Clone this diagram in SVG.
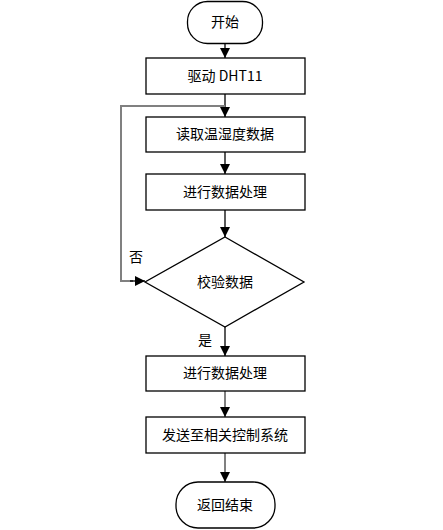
<svg xmlns="http://www.w3.org/2000/svg" width="443" height="530" viewBox="0 0 443 530">
<defs>
<style>
.n{fill:#fff;stroke:#000;stroke-width:1.3}
.t{font-family:"Noto Sans CJK SC","Noto Sans",sans-serif;font-size:14px;fill:#000;text-anchor:middle}
.c{fill:none;stroke:#000;stroke-width:1.3}
.g{fill:none;stroke:#808080;stroke-width:2}
</style>
<marker id="a" viewBox="0 0 10 10" refX="10" refY="5" markerWidth="10" markerHeight="10" markerUnits="userSpaceOnUse" orient="auto">
<path d="M0,0 L10,5 L0,10 z" fill="#000"/>
</marker>
</defs>
<rect width="443" height="530" fill="#fff"/>
<g id="connectors">
<line class="c" x1="225" y1="43" x2="225" y2="58" marker-end="url(#a)"/>
<line class="c" x1="225" y1="94" x2="225" y2="117" marker-end="url(#a)"/>
<line class="c" x1="225" y1="152" x2="225" y2="174" marker-end="url(#a)"/>
<line class="c" x1="225" y1="210" x2="225" y2="237" marker-end="url(#a)"/>
<line class="c" x1="225" y1="327" x2="225" y2="356" marker-end="url(#a)"/>
<line class="g" x1="225" y1="391" x2="225" y2="417" marker-end="url(#a)"/>
<line class="g" x1="225" y1="453" x2="225" y2="482" marker-end="url(#a)"/>
<path class="g" d="M133,281 L121,281 L121,106 L225,106"/>
<line class="c" x1="130" y1="281" x2="145" y2="281" marker-end="url(#a)"/>
<text class="t" x="136" y="262">否</text>
<text class="t" x="205" y="345">是</text>
</g>
<g id="start">
<rect class="n" x="187.5" y="1.5" width="75" height="42" rx="20" ry="20"/>
<text class="t" x="225" y="27">开始</text>
</g>
<g id="drive">
<rect class="n" x="146" y="58" width="159" height="36"/>
<text class="t" x="225" y="81">驱动 DHT11</text>
</g>
<g id="read">
<rect class="n" x="146" y="117" width="159" height="35"/>
<text class="t" x="225" y="139">读取温湿度数据</text>
</g>
<g id="process1">
<rect class="n" x="146" y="174" width="159" height="36"/>
<text class="t" x="225" y="197">进行数据处理</text>
</g>
<g id="check">
<polygon class="n" points="225,237 304,282 225,327 145,282"/>
<text class="t" x="225" y="287">校验数据</text>
</g>
<g id="process2">
<rect class="n" x="146" y="356" width="159" height="35"/>
<text class="t" x="225" y="378">进行数据处理</text>
</g>
<g id="send">
<rect class="n" x="146" y="417" width="159" height="36"/>
<text class="t" x="225" y="440">发送至相关控制系统</text>
</g>
<g id="end">
<rect class="n" x="176" y="482" width="99" height="46" rx="22" ry="22"/>
<text class="t" x="225" y="510">返回结束</text>
</g>
</svg>
